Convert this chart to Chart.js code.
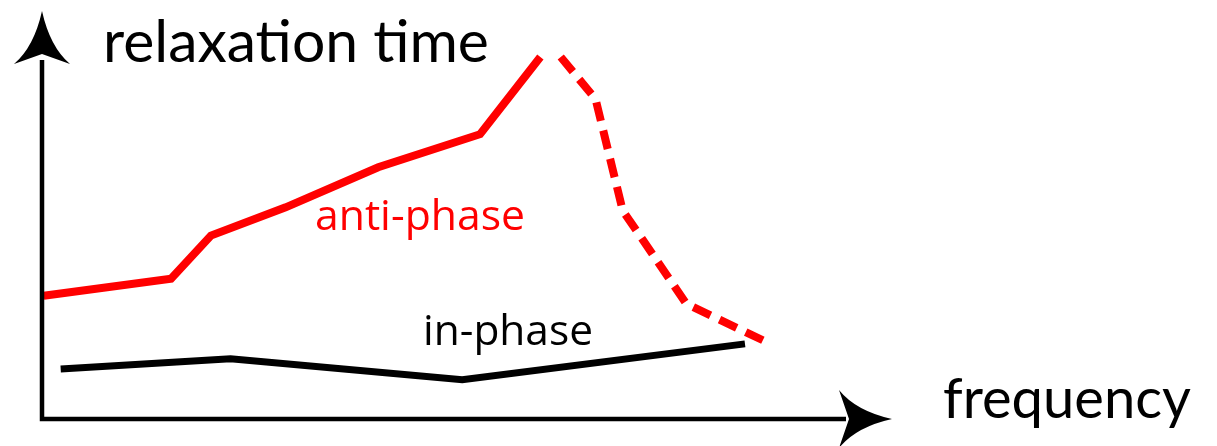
<!DOCTYPE html>
<html>
<head>
<meta charset="utf-8">
<script src="https://cdn.jsdelivr.net/npm/chart.js@4.4.1/dist/chart.umd.min.js"></script>
<style>
  html, body { margin: 0; padding: 0; background: #fff; }
  #wrap { width: 1217px; height: 446px; position: relative; }
</style>
</head>
<body>
<div id="wrap"><canvas id="relax-chart"></canvas></div>
<script>
// values (arbitrary units, axes run 0..10)
const antiPhaseSolidX = [0.02, 1.52, 1.99, 2.87, 3.96, 5.16, 5.87];
const antiPhaseSolidY = [3.05, 3.47, 4.54, 5.24, 6.23, 7.05, 8.96];
const antiPhaseDashX = [6.11, 6.52, 6.84, 7.59, 8.55];
const antiPhaseDashY = [8.96, 7.92, 5.16, 2.85, 1.89];
const inPhaseX = [0.22, 2.22, 4.95, 8.28];
const inPhaseY = [1.24, 1.49, 0.97, 1.86];

const axisTitleX = "frequency";
const axisTitleY = "relaxation time";
const antiLabel = "anti-phase";
const inLabel = "in-phase";

const toPoints = (xs, ys) => xs.map((x, i) => ({ x: x, y: ys[i] }));

const ctx = document.getElementById("relax-chart").getContext("2d");

// draws fitted text so its width matches the sketch
function fitText(c, text, family, target, left, baseline, color) {
  c.font = "100px " + family;
  const w = c.measureText(text).width;
  const size = 100 * target / w;
  c.font = size + "px " + family;
  c.fillStyle = color;
  c.textBaseline = "alphabetic";
  c.textAlign = "left";
  c.fillText(text, left, baseline);
}

//Axes with arrow heads + text labels
const sketchAxes = {
  id: "sketchAxes",
  afterDatasetsDraw(chart) {
    const c = chart.ctx;
    const xs = chart.scales.x;
    const ys = chart.scales.y;
    const ox = xs.getPixelForValue(0);
    const oy = ys.getPixelForValue(0);
    const top = ys.getPixelForValue(10);
    const right = xs.getPixelForValue(10);

    c.save();
    c.strokeStyle = "#000";
    c.fillStyle = "#000";
    c.lineWidth = 4.5;
    c.lineJoin = "miter";

    c.beginPath();
    c.moveTo(ox, top + 45);
    c.lineTo(ox, oy);
    c.lineTo(right - 45, oy);
    c.stroke();

    // y arrow
    c.beginPath();
    c.moveTo(ox, top - 4);
    c.quadraticCurveTo(ox - 8, top + 32, ox - 28, top + 49);
    c.lineTo(ox, top + 39);
    c.lineTo(ox + 28, top + 49);
    c.quadraticCurveTo(ox + 8, top + 32, ox, top - 4);
    c.closePath();
    c.fill();

    // x arrow
    c.beginPath();
    c.moveTo(right + 1, oy);
    c.quadraticCurveTo(right - 35, oy - 8, right - 52, oy - 29);
    c.lineTo(right - 42, oy);
    c.lineTo(right - 52, oy + 29);
    c.quadraticCurveTo(right - 35, oy + 8, right + 1, oy);
    c.closePath();
    c.fill();

    fitText(c, axisTitleY, "Lato", 386, 103, 62, "#000");
    fitText(c, axisTitleX, "Lato", 248, 943, 418, "#000");
    fitText(c, antiLabel, "'Open Sans'", 210, 315, 230, "#ff0000");
    fitText(c, inLabel, "'Open Sans'", 170, 423, 345, "#000");
    c.restore();
  },
};

const config = {
  type: "line",
  data: {
    datasets: [
      {
        data: toPoints(antiPhaseSolidX, antiPhaseSolidY),
        borderColor: "#ff0000",
        borderWidth: 8,
        pointRadius: 0,
        tension: 0,
        fill: false,
        clip: false,
      },
      {
        data: toPoints(antiPhaseDashX, antiPhaseDashY),
        borderColor: "#ff0000",
        borderWidth: 8,
        borderDash: [19, 10],
        borderCapStyle: "butt",
        pointRadius: 0,
        tension: 0,
        fill: false,
        clip: false,
      },
      {
        data: toPoints(inPhaseX, inPhaseY),
        borderColor: "#000",
        borderWidth: 7,
        pointRadius: 0,
        tension: 0,
        fill: false,
        clip: false,
      },
    ],
  },
  options: {
    responsive: true,
    maintainAspectRatio: false,
    animation: false,
    layout: {
      padding: { left: 42, right: 326, top: 15, bottom: 27 },
    },
    scales: {
      x: {
        type: "linear",
        min: 0,
        max: 10,
        display: false,
      },
      y: {
        type: "linear",
        min: 0,
        max: 10,
        display: false,
      },
    },
    plugins: {
      legend: { display: false },
      tooltip: { enabled: false },
    },
  },
  plugins: [sketchAxes],
};

new Chart(ctx, config);
</script>
</body>
</html>
